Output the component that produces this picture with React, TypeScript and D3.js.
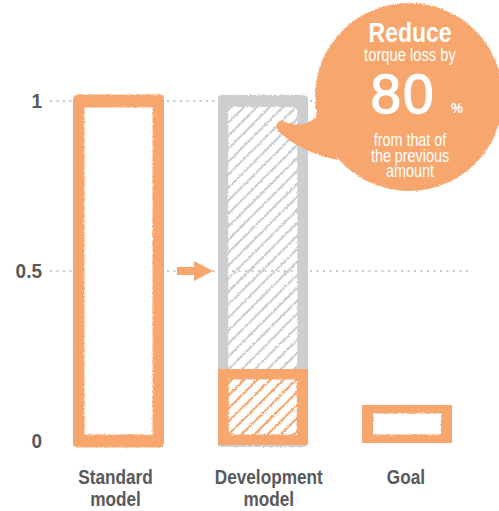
import React from "react";
import * as d3 from "d3";

const categories: string[][] = [["Standard", "model"], ["Development", "model"], ["Goal"]];
const values: number[] = [1, 0.2, 0.1];
const previousValues: (number | null)[] = [null, 1, null];
const yTicks: number[] = [0, 0.5, 1];
const yTickLabels: string[] = ["0", "0.5", "1"];
const calloutHead = "Reduce";
const calloutSub = "torque loss by";
const calloutBig = "80";
const calloutUnit = "%";
const calloutTail: string[] = ["from that of", "the previous", "amount"];

const W = 499;
const H = 511;
const ORANGE = "#F7A76E";
const GRAY = "#CDCED0";
const TEXT = "#58595B";
const FONT = "'Liberation Sans', Arial, Helvetica, sans-serif";

function NText(props: {
  x: number; y: number; size: number; bold?: boolean; sx?: number; anchor?: string; fill: string; children: React.ReactNode; spacing?: number; stroke?: number;
}) {
  const { x, y, size, bold, sx = 0.82, anchor = "middle", fill, children, spacing, stroke } = props;
  return (
    <text
      transform={`translate(${x},${y}) scale(${sx},1)`}
      textAnchor={anchor}
      fontFamily={FONT}
      fontWeight={bold ? "bold" : "normal"}
      fontSize={size}
      fill={fill}
      stroke={stroke ? fill : undefined}
      strokeWidth={stroke}
      letterSpacing={spacing}
    >
      {children}
    </text>
  );
}

export default function App() {
  const keys = categories.map((c) => c.join(" "));
  const x = d3.scalePoint<string>().domain(keys).range([118.5, 407]);
  const y = d3.scaleLinear().domain([0, 1]).range([441, 101]);
  const barW = 81;

  const tailPath = d3.path();
  tailPath.moveTo(318, 116);
  tailPath.quadraticCurveTo(300, 131, 282, 120);
  tailPath.quadraticCurveTo(273, 124, 278, 131);
  tailPath.quadraticCurveTo(300, 152, 338, 160);
  tailPath.closePath();

  const arrowY = y(0.5);
  const labelOffsets = [-3, 6, -1];

  return (
    <svg width={W} height={H} style={{ position: "absolute", left: 0, top: 0 }}>
      <defs>
        <filter id="rough" x="-5%" y="-5%" width="110%" height="110%">
          <feTurbulence type="fractalNoise" baseFrequency="0.9" numOctaves="2" seed="3" result="n" />
          <feDisplacementMap in="SourceGraphic" in2="n" scale="3" xChannelSelector="R" yChannelSelector="G" />
        </filter>
        <pattern id="hatchGray" patternUnits="userSpaceOnUse" width="13" height="13">
          <path d="M0,13 L13,0 M-3,3 L3,-3 M10,16 L16,10" stroke={GRAY} strokeWidth="2.2" />
        </pattern>
        <pattern id="hatchOrange" patternUnits="userSpaceOnUse" width="13" height="13">
          <path d="M0,13 L13,0 M-3,3 L3,-3 M10,16 L16,10" stroke={ORANGE} strokeWidth="2.2" />
        </pattern>
      </defs>

      {/* gridlines */}
      {yTicks.filter((t) => t > 0).map((t) => (
        <line key={t} x1={50} x2={470} y1={y(t)} y2={y(t)} stroke="#C8C9CB" strokeWidth={2} strokeDasharray="2 4.5" />
      ))}

      {/* y labels */}
      {yTicks.map((t, i) => (
        <NText key={t} x={42} y={y(t) + 7} size={20} bold sx={0.95} anchor="end" fill={TEXT}>
          {yTickLabels[i]}
        </NText>
      ))}

      {/* previous (ghost) bars */}
      {keys.map((k, i) => {
        const p = previousValues[i];
        if (p == null) return null;
        const cx = x(k)!;
        return (
          <g key={"g" + k} filter="url(#rough)">
            <rect x={cx - barW / 2} y={y(p)} width={barW} height={y(0) - y(p)} fill="url(#hatchGray)" stroke={GRAY} strokeWidth={12} strokeLinejoin="round" />
          </g>
        );
      })}

      {/* bars */}
      {keys.map((k, i) => {
        const cx = x(k)!;
        const v = values[i];
        const hatched = previousValues[i] != null;
        return (
          <g key={"b" + k} filter="url(#rough)">
            <rect x={cx - barW / 2} y={y(v)} width={barW} height={y(0) - y(v)} fill="white" />
            {hatched && <rect x={cx - barW / 2} y={y(v)} width={barW} height={y(0) - y(v)} fill="url(#hatchOrange)" />}
            <rect x={cx - barW / 2} y={y(v)} width={barW} height={y(0) - y(v)} fill="none" stroke={ORANGE} strokeWidth={13} strokeLinejoin="round" />
          </g>
        );
      })}

      {/* baseline */}
      <g filter="url(#rough)">
        <line x1={45} x2={476} y1={y(0)} y2={y(0)} stroke={ORANGE} strokeWidth={13} strokeLinecap="round" />
      </g>

      {/* arrow */}
      <path d={`M177,${arrowY - 4} L194,${arrowY - 4} L194,${arrowY - 10} L213,${arrowY} L194,${arrowY + 10} L194,${arrowY + 4} L177,${arrowY + 4} Z`} fill={ORANGE} />

      {/* x labels */}
      {keys.map((k, i) => (
        <g key={"l" + k}>
          {categories[i].map((line, j) => (
            <NText key={j} x={x(k)! + labelOffsets[i]} y={484 + j * 22} size={21} bold fill={TEXT}>{line}</NText>
          ))}
        </g>
      ))}

      {/* callout bubble */}
      <g filter="url(#rough)">
        <circle cx={409} cy={97} r={94} fill={ORANGE} />
        <path d={tailPath.toString()} fill={ORANGE} />
      </g>
      <NText x={410} y={42} size={28} bold fill="white">{calloutHead}</NText>
      <NText x={410} y={61} size={18} fill="white">{calloutSub}</NText>
      <NText x={403} y={113} size={55} sx={1} spacing={2} stroke={1.3} fill="white">{calloutBig}</NText>
      <NText x={457} y={113} size={15} bold sx={0.9} fill="white">{calloutUnit}</NText>
      {calloutTail.map((t, i) => (
        <NText key={t} x={410} y={146 + i * 15.5} size={17.5} fill="white">{t}</NText>
      ))}
    </svg>
  );
}
